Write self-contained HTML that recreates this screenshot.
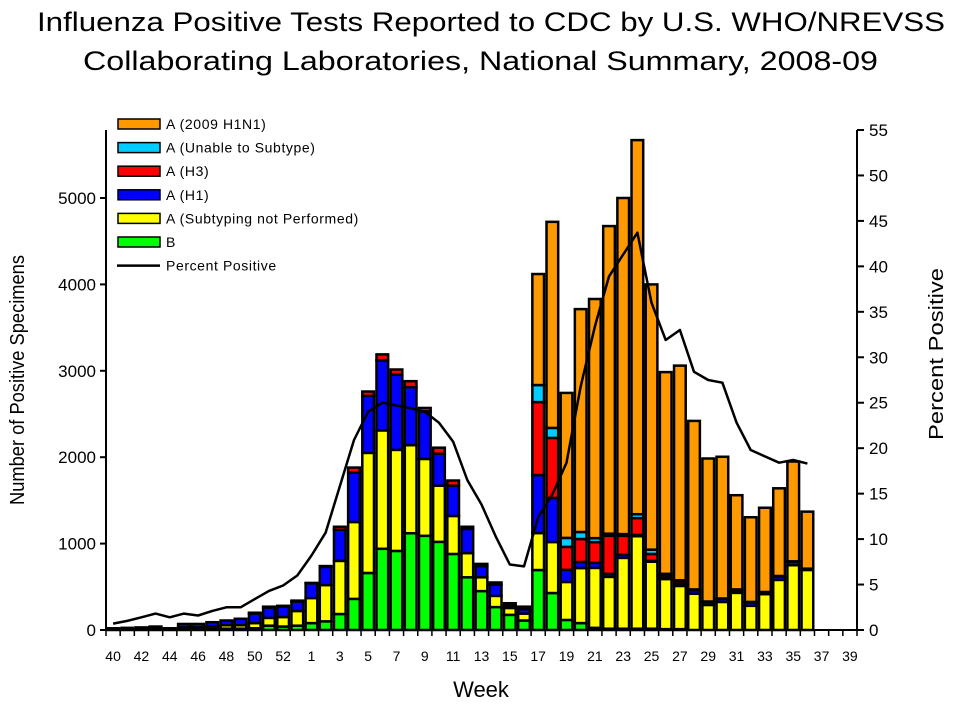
<!DOCTYPE html>
<html><head><meta charset="utf-8"><style>
body{margin:0;background:#fff;}
svg{font-family:"Liberation Sans",Arial,sans-serif;}
</style></head><body>
<svg id="chart" width="960" height="720">
<text x="37" y="31" font-size="27" textLength="908" lengthAdjust="spacingAndGlyphs">Influenza Positive Tests Reported to CDC by U.S. WHO/NREVSS</text>
<text x="83" y="70" font-size="27" textLength="795" lengthAdjust="spacingAndGlyphs">Collaborating Laboratories, National Summary, 2008-09</text>
<text transform="translate(24,380) rotate(-90)" font-size="20" text-anchor="middle" textLength="250" lengthAdjust="spacingAndGlyphs">Number of Positive Specimens</text>
<text transform="translate(943,354) rotate(-90)" font-size="20" text-anchor="middle" textLength="172" lengthAdjust="spacingAndGlyphs">Percent Positive</text>
<text x="481" y="697" font-size="22" text-anchor="middle">Week</text>
<g id="bars"></g><g id="axes"></g><g id="legend"></g>
</svg>
<script>
const weeks=[40,41,42,43,44,45,46,47,48,49,50,51,52,53,1,2,3,4,5,6,7,8,9,10,11,12,13,14,15,16,17,18,19,20,21,22,23,24,25,26,27,28,29,30,31,32,33,34,35,36,37,38,39];
const seriesB=[5,5,5,10,5,10,10,10,15,15,20,50,40,50,80,100,185,360,660,940,915,1120,1090,1020,880,610,450,265,175,110,694,428,116,80,25,15,15,15,15,10,10,0,0,0,0,0,0,0,0,0,0,0,0];
const seriesAnp=[5,5,10,10,15,20,20,30,40,40,60,90,110,170,290,420,615,890,1390,1370,1170,1020,890,650,440,280,160,130,80,80,428,590,440,637,694,600,820,1070,775,580,500,420,290,325,430,280,415,580,750,695,0,0,0];
const seriesH1=[10,15,15,20,0,40,40,50,55,75,110,120,120,110,170,210,360,570,660,810,870,670,550,370,350,280,130,130,30,50,671,510,140,70,58,35,35,15,10,20,30,40,35,35,20,40,20,40,40,10,0,0,0];
const seriesH3=[0,0,0,0,0,0,0,0,0,0,10,10,10,10,5,10,35,60,50,70,60,70,40,70,60,25,25,25,25,30,845,695,266,266,240,440,220,195,80,30,30,0,0,0,0,0,0,0,0,0,0,0,0];
const seriesUnable=[0,0,0,0,0,0,0,0,0,0,0,0,0,0,0,0,0,0,0,0,0,0,0,0,0,0,0,0,0,0,197,116,104,81,46,25,20,45,50,10,5,10,5,5,20,5,5,5,5,5,0,0,0];
const seriesPdm=[0,0,0,0,0,0,0,0,0,0,0,0,0,0,0,0,0,0,0,0,0,0,0,0,0,0,0,0,0,0,1285,2385,1678,2580,2768,3560,3890,4330,3070,2335,2485,1950,1655,1640,1090,980,975,1015,1155,660,0,0,0];
const percentPositive=[0.7,1.0,1.4,1.8,1.4,1.8,1.6,2.1,2.5,2.5,3.4,4.3,4.9,6.0,8.2,10.7,15.8,20.9,24.0,25.0,24.7,24.4,24.0,22.8,20.7,16.5,13.8,10.3,7.2,7.0,12.4,14.9,18.4,26.8,33.4,38.9,41.3,43.7,36.0,31.9,33.0,28.4,27.5,27.2,22.8,19.8,19.1,18.4,18.7,18.3,null,null,null];
const leftTicks=[0,1000,2000,3000,4000,5000];
const rightTicks=[0,5,10,15,20,25,30,35,40,45,50,55];
const legendLabels=["A (2009 H1N1)","A (Unable to Subtype)","A (H3)","A (H1)","A (Subtyping not Performed)","B","Percent Positive"];

const NS="http://www.w3.org/2000/svg";
const X0=106,X1=857,Y0=630,YT=130,LMAX=5787,RMAX=55;
const slot=(X1-X0)/weeks.length;
const xC=i=>X0+slot*(i+0.5);
const yL=v=>Y0-(v/LMAX)*(Y0-YT);
const yR=v=>Y0-(v/RMAX)*(Y0-YT);
function mk(tag,attrs,parent){const e=document.createElementNS(NS,tag);for(const k in attrs)e.setAttribute(k,attrs[k]);parent.appendChild(e);return e;}
const bars=document.getElementById('bars'),axes=document.getElementById('axes'),leg=document.getElementById('legend');
const stack=[[seriesB,'#00ff00','b'],[seriesAnp,'#ffff00','a-not-subtyped'],[seriesH1,'#0000ff','h1'],[seriesH3,'#ff0000','h3'],[seriesUnable,'#00ccff','unable'],[seriesPdm,'#ff9900','h1n1-2009']];
weeks.forEach((w,i)=>{
  let base=0;const bw=slot-2.5;
  stack.forEach(([arr,col,nm])=>{
    const v=arr[i];if(!v)return;
    const r=mk('rect',{x:xC(i)-bw/2,y:yL(base+v),width:bw,height:yL(base)-yL(base+v),fill:col,stroke:'#000','stroke-width':2.5},bars);
    
    
    base+=v;
  });
});
let d='';percentPositive.forEach((v,i)=>{if(v==null)return;d+=(d?'L':'M')+xC(i).toFixed(1)+','+yR(v).toFixed(1);});
const ln=mk('path',{d:d,fill:'none',stroke:'#000','stroke-width':2.5,'stroke-linejoin':'round'},bars);


mk('line',{x1:X0,y1:YT,x2:X0,y2:Y0,stroke:'#000','stroke-width':2},axes);
mk('line',{x1:X1,y1:YT,x2:X1,y2:Y0,stroke:'#000','stroke-width':2},axes);
mk('line',{x1:X0,y1:Y0,x2:X1,y2:Y0,stroke:'#000','stroke-width':2},axes);
leftTicks.forEach(t=>{
  mk('line',{x1:X0-6,y1:yL(t),x2:X0,y2:yL(t),stroke:'#000','stroke-width':2},axes);
  const tx=mk('text',{x:X0-10,y:yL(t)+6,'font-size':17,'text-anchor':'end'},axes);tx.textContent=t;
  
  
});
rightTicks.forEach(t=>{
  mk('line',{x1:X1,y1:yR(t),x2:X1+7,y2:yR(t),stroke:'#000','stroke-width':2},axes);
  const tx=mk('text',{x:X1+12,y:yR(t)+6,'font-size':17},axes);tx.textContent=t;
  
  
});
for(let i=0;i<=weeks.length;i++){mk('line',{x1:X0+slot*i,y1:Y0,x2:X0+slot*i,y2:Y0+6,stroke:'#000','stroke-width':1.5},axes);}
weeks.forEach((w,i)=>{if(i%2)return;
  const tx=mk('text',{x:xC(i),y:661,'font-size':14,'text-anchor':'middle'},axes);tx.textContent=w;
  
  
});
const legCols=['#ff9900','#00ccff','#ff0000','#0000ff','#ffff00','#00ff00'];
legendLabels.forEach((lab,k)=>{
  const y=124+k*23.6;
  if(k<6){const r=mk('rect',{x:118,y:y-5,width:42,height:10,fill:legCols[k],stroke:'#000','stroke-width':1.5},leg);
    
    }
  else{mk('line',{x1:117,y1:y,x2:160,y2:y,stroke:'#000','stroke-width':2.5},leg);}
  const tx=mk('text',{x:166,y:y+5,'font-size':14,'letter-spacing':'0.6'},leg);tx.textContent=lab;
  
  
});
</script>
</body></html>
